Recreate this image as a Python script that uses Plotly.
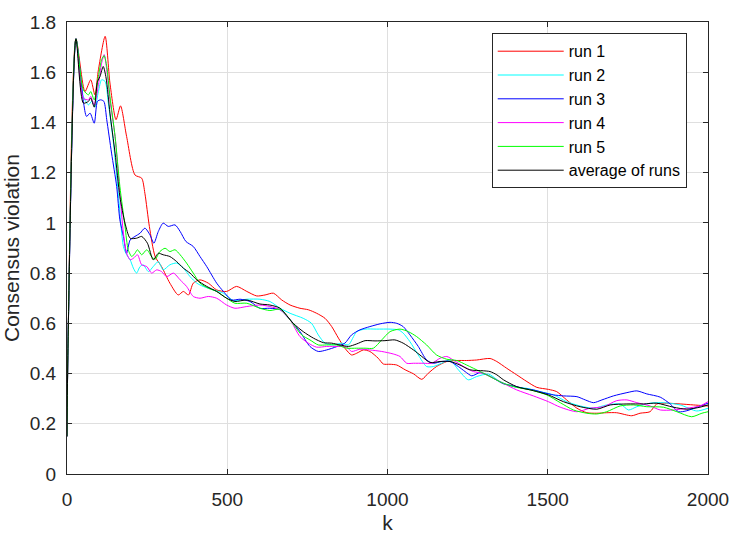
import plotly.graph_objects as go

# ---- data ----
k_run1 = [0, 3, 28, 56, 74, 87, 98, 119, 134, 153, 167, 186, 212, 233, 243, 257, 275, 295, 321, 347, 363, 379, 394, 415, 441, 467, 498, 529, 561,
          592, 618, 644, 670, 696, 727, 753, 779, 805, 826, 847, 867, 888, 904, 925, 945, 971, 987, 1008, 1029, 1055, 1081, 1107, 1127, 1153, 1185, 1216, 1247, 1278,
          1320, 1341, 1372, 1403, 1435, 1466, 1502, 1528, 1559, 1591, 1622, 1653, 1684, 1715, 1762, 1788, 1819, 1840, 1871, 1913, 1955, 2000]
v_run1 = [0.15, 0.5, 1.733, 1.523, 1.570, 1.510, 1.610, 1.743, 1.557, 1.411, 1.466, 1.344, 1.191, 1.178, 1.118, 0.986, 0.866, 0.826, 0.760, 0.713, 0.727, 0.713, 0.760, 0.773, 0.760, 0.733, 0.727, 0.747, 0.727,
          0.709, 0.713, 0.720, 0.693, 0.673, 0.660, 0.654, 0.640, 0.620, 0.587, 0.541, 0.501, 0.474, 0.481, 0.494, 0.488, 0.461, 0.438, 0.437, 0.434, 0.415, 0.399, 0.377, 0.401, 0.428, 0.448, 0.452, 0.452, 0.454,
          0.460, 0.448, 0.421, 0.395, 0.368, 0.345, 0.337, 0.328, 0.295, 0.262, 0.244, 0.242, 0.244, 0.244, 0.232, 0.242, 0.248, 0.279, 0.282, 0.279, 0.275, 0.271]

k_run2 = [0, 3, 28, 51, 67, 77, 87, 98, 108, 119, 129, 145, 160, 176, 186, 197, 207, 217, 228, 238, 254, 269, 285, 300, 321, 342, 363, 384, 405, 425, 457, 488, 519, 561,
          602, 633, 665, 696, 737, 763, 784, 805, 831, 857, 878, 904, 930, 966, 1008, 1034, 1049, 1070, 1096, 1122, 1143, 1169, 1195, 1221, 1252, 1278,
          1315, 1351, 1393, 1435, 1476, 1518, 1559, 1601, 1643, 1684, 1726, 1752, 1778, 1819, 1861, 1913, 1965, 2000]
v_run2 = [0.15, 0.5, 1.733, 1.504, 1.470, 1.484, 1.461, 1.523, 1.570, 1.563, 1.477, 1.318, 1.118, 0.906, 0.873, 0.853, 0.820, 0.800, 0.826, 0.833, 0.806, 0.826, 0.846, 0.813, 0.833, 0.840, 0.820, 0.786, 0.760, 0.747, 0.733, 0.720, 0.691, 0.696,
          0.696, 0.687, 0.660, 0.640, 0.620, 0.600, 0.554, 0.521, 0.514, 0.521, 0.514, 0.567, 0.577, 0.577, 0.577, 0.574, 0.561, 0.527, 0.474, 0.428, 0.428, 0.441, 0.454, 0.415, 0.375, 0.388,
          0.398, 0.368, 0.348, 0.341, 0.328, 0.315, 0.288, 0.271, 0.262, 0.275, 0.279, 0.255, 0.268, 0.282, 0.284, 0.275, 0.251, 0.262]

k_run3 = [0, 3, 28, 51, 61, 72, 85, 95, 105, 115, 124, 139, 155, 165, 176, 186, 197, 212, 228, 243, 259, 271, 285, 300, 316, 337, 353, 371, 394, 415, 436, 467, 488, 514, 540, 571,
          602, 633, 665, 696, 727, 758, 784, 810, 841, 867, 888, 914, 945, 977, 1008, 1029, 1049, 1070, 1096, 1122, 1143, 1169, 1195, 1221, 1242, 1263, 1289,
          1310, 1331, 1362, 1393, 1424, 1455, 1487, 1518, 1549, 1591, 1617, 1643, 1669, 1705, 1747, 1778, 1809, 1851, 1882, 1908, 1934, 1965, 2000]
v_run3 = [0.15, 0.5, 1.733, 1.484, 1.424, 1.437, 1.397, 1.484, 1.490, 1.484, 1.411, 1.278, 1.145, 1.012, 0.946, 0.879, 0.932, 0.946, 0.959, 0.979, 0.952, 0.919, 0.966, 0.999, 0.986, 0.992, 0.966, 0.926, 0.906, 0.866, 0.826, 0.760, 0.727, 0.693, 0.696, 0.687,
          0.660, 0.660, 0.654, 0.614, 0.567, 0.508, 0.488, 0.494, 0.507, 0.521, 0.554, 0.574, 0.587, 0.598, 0.604, 0.600, 0.587, 0.554, 0.508, 0.454, 0.441, 0.448, 0.448, 0.428, 0.408, 0.391, 0.404,
          0.395, 0.381, 0.359, 0.351, 0.341, 0.335, 0.324, 0.315, 0.311, 0.308, 0.295, 0.284, 0.295, 0.311, 0.324, 0.331, 0.319, 0.306, 0.279, 0.248, 0.252, 0.266, 0.282]

k_run4 = [0, 3, 28, 51, 67, 74, 85, 98, 108, 116, 124, 134, 150, 165, 176, 186, 197, 207, 220, 233, 249, 264, 280, 295, 311, 332, 353, 373, 394, 415, 441, 467, 498, 524, 561,
          602, 633, 665, 696, 727, 753, 779, 810, 847, 873, 888, 914, 945, 982, 1018, 1039, 1060, 1081, 1112, 1138, 1164, 1185, 1205, 1237, 1268, 1299,
          1320, 1362, 1403, 1455, 1502, 1539, 1591, 1632, 1674, 1715, 1747, 1778, 1819, 1851, 1892, 1934, 1975, 2000]
v_run4 = [0.15, 0.5, 1.733, 1.497, 1.490, 1.504, 1.470, 1.550, 1.636, 1.670, 1.610, 1.490, 1.344, 1.118, 0.959, 0.879, 0.853, 0.859, 0.873, 0.833, 0.826, 0.800, 0.813, 0.806, 0.786, 0.800, 0.773, 0.747, 0.707, 0.700, 0.707, 0.700, 0.673, 0.660, 0.667,
          0.673, 0.667, 0.654, 0.614, 0.547, 0.521, 0.505, 0.508, 0.508, 0.505, 0.488, 0.497, 0.494, 0.488, 0.478, 0.468, 0.441, 0.441, 0.441, 0.441, 0.461, 0.468, 0.454, 0.428, 0.408, 0.401,
          0.388, 0.361, 0.335, 0.311, 0.288, 0.266, 0.248, 0.262, 0.268, 0.292, 0.295, 0.284, 0.271, 0.255, 0.255, 0.262, 0.271, 0.288]

k_run5 = [0, 3, 28, 51, 67, 74, 85, 98, 108, 116, 124, 134, 150, 165, 181, 191, 202, 212, 220, 233, 249, 264, 275, 290, 306, 321, 337, 353, 373, 394, 415, 441, 467, 498, 524, 561,
          602, 633, 665, 696, 732, 758, 784, 810, 841, 873, 904, 930, 956, 982, 1008, 1039, 1065, 1091, 1122, 1153, 1185, 1216, 1247, 1289,
          1320, 1362, 1403, 1445, 1497, 1539, 1580, 1622, 1653, 1684, 1726, 1767, 1809, 1861, 1903, 1949, 1981, 2000]
v_run5 = [0.15, 0.5, 1.733, 1.530, 1.510, 1.523, 1.490, 1.583, 1.650, 1.666, 1.623, 1.504, 1.344, 1.145, 0.986, 0.893, 0.866, 0.879, 0.893, 0.873, 0.893, 0.866, 0.855, 0.886, 0.899, 0.886, 0.893, 0.873, 0.840, 0.800, 0.760, 0.740, 0.727, 0.700, 0.680, 0.680,
          0.660, 0.651, 0.656, 0.614, 0.554, 0.534, 0.514, 0.514, 0.514, 0.501, 0.501, 0.501, 0.501, 0.534, 0.567, 0.577, 0.567, 0.547, 0.514, 0.474, 0.457, 0.452, 0.434, 0.408,
          0.388, 0.361, 0.345, 0.335, 0.315, 0.284, 0.255, 0.242, 0.239, 0.248, 0.271, 0.275, 0.268, 0.266, 0.248, 0.228, 0.242, 0.248]

k_avg = [0, 3, 28, 51, 67, 74, 85, 95, 103, 113, 122, 134, 150, 165, 181, 197, 217, 233, 251, 269, 285, 300, 321, 342, 363, 384, 405, 436, 467, 498, 524, 561,
         602, 633, 665, 706, 737, 769, 800, 826, 852, 878, 904, 930, 961, 992, 1023, 1049, 1081, 1107, 1133, 1164, 1195, 1226, 1257, 1299,
         1320, 1341, 1362, 1403, 1455, 1502, 1549, 1601, 1653, 1695, 1747, 1799, 1840, 1892, 1934, 1975, 2000]
v_avg = [0.15, 0.5, 1.733, 1.477, 1.484, 1.497, 1.461, 1.563, 1.583, 1.623, 1.577, 1.437, 1.278, 1.105, 0.999, 0.939, 0.939, 0.946, 0.919, 0.853, 0.879, 0.873, 0.866, 0.846, 0.820, 0.800, 0.773, 0.747, 0.727, 0.700, 0.687, 0.693,
         0.677, 0.673, 0.660, 0.600, 0.567, 0.541, 0.523, 0.521, 0.514, 0.508, 0.518, 0.531, 0.530, 0.531, 0.534, 0.521, 0.494, 0.468, 0.444, 0.448, 0.448, 0.434, 0.415, 0.411,
         0.408, 0.395, 0.375, 0.348, 0.332, 0.315, 0.288, 0.268, 0.258, 0.275, 0.279, 0.279, 0.282, 0.266, 0.258, 0.266, 0.275]

series_names = ["run 1", "run 2", "run 3", "run 4", "run 5", "average of runs"]
series_colors = ["#FF0000", "#00FFFF", "#0000FF", "#FF00FF", "#00FF00", "#000000"]
x_ticks = [0, 500, 1000, 1500, 2000]
y_ticks = [0, 0.2, 0.4, 0.6, 0.8, 1.0, 1.2, 1.4, 1.6, 1.8]
y_tick_labels = ["0", "0.2", "0.4", "0.6", "0.8", "1", "1.2", "1.4", "1.6", "1.8"]

FONT = "Liberation Sans, Arial, sans-serif"
TXT = "#262626"

fig = go.Figure()
all_k = [k_run1, k_run2, k_run3, k_run4, k_run5, k_avg]
all_v = [v_run1, v_run2, v_run3, v_run4, v_run5, v_avg]
for kk, vv, nm, col in zip(all_k, all_v, series_names, series_colors):
    fig.add_trace(go.Scatter(x=kk, y=vv, mode="lines", name=nm,
                             line=dict(color=col, width=1, shape="spline", smoothing=0.7)))

axis_common = dict(
    showline=True, linecolor=TXT, linewidth=1, mirror="ticks",
    ticks="inside", ticklen=5, tickcolor=TXT, tickwidth=1,
    showgrid=True, gridcolor="#DFDFDF", gridwidth=1, zeroline=False,
    tickfont=dict(family=FONT, size=19, color=TXT), automargin=False,
)

fig.update_layout(
    width=736, height=540,
    margin=dict(l=67, r=28, t=22, b=66),
    paper_bgcolor="white", plot_bgcolor="white",
    font=dict(family=FONT, color=TXT),
    showlegend=True,
    legend=dict(
        x=0.6626, y=0.975, xanchor="left", yanchor="top",
        bgcolor="white", bordercolor="#262626", borderwidth=1,
        font=dict(family=FONT, size=16, color="#000000"),
        tracegroupgap=0, itemwidth=66,
        entrywidth=152, entrywidthmode="pixels",
    ),
    xaxis=dict(range=[0, 2000], tickvals=x_ticks,
               title=dict(text="k", font=dict(family=FONT, size=21, color=TXT), standoff=6),
               ticklabelstandoff=8, **axis_common),
    yaxis=dict(range=[0, 1.8], tickvals=y_ticks, ticktext=y_tick_labels,
               title=dict(text="Consensus violation", font=dict(family=FONT, size=21, color=TXT), standoff=6),
               ticklabelstandoff=6, **axis_common),
)

fig.write_html("out.html", config={"displayModeBar": False},
               post_script="document.body.style.margin='0';document.body.style.overflow='hidden';")
